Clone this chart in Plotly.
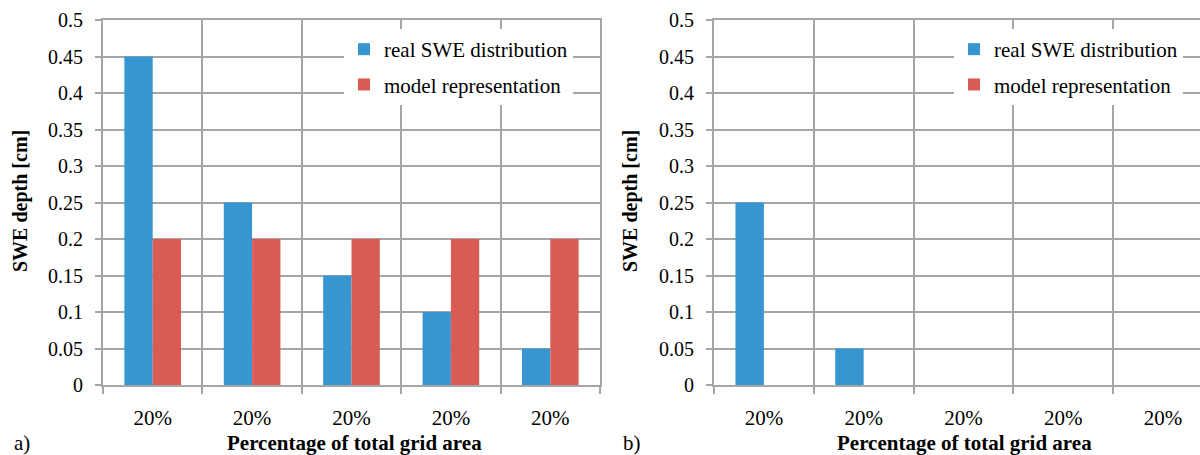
import plotly.graph_objects as go

# Data
categories = ["20%", "20%", "20%", "20%", "20%"]
real_swe_a = [0.45, 0.25, 0.15, 0.10, 0.05]
model_a = [0.20, 0.20, 0.20, 0.20, 0.20]
real_swe_b = [0.25, 0.05, 0.0, 0.0, 0.0]
model_b = [0.0, 0.0, 0.0, 0.0, 0.0]
y_ticks = [0, 0.05, 0.1, 0.15, 0.2, 0.25, 0.3, 0.35, 0.4, 0.45, 0.5]
y_ticklabels = ["0", "0.05", "0.1", "0.15", "0.2", "0.25", "0.3", "0.35", "0.4", "0.45", "0.5"]
series_names = ["real SWE distribution", "model representation"]

BLUE = "#3796CF"
RED = "#D95B56"
GRID = "#A6A6A6"
FONT = "Liberation Serif, Times New Roman, serif"

x_pos = list(range(len(categories)))
bounds = [i - 0.5 for i in range(len(categories) + 1)]

fig = go.Figure()

def add_pair(real, model, xa, ya, legend):
    fig.add_trace(go.Bar(x=x_pos, y=real, name=series_names[0], marker_color=BLUE,
                         marker_line_width=0, xaxis=xa, yaxis=ya, legend=legend,
                         legendgroup=legend + "r"))
    fig.add_trace(go.Bar(x=x_pos, y=model, name=series_names[1], marker_color=RED,
                         marker_line_width=0, xaxis=xa, yaxis=ya, legend=legend,
                         legendgroup=legend + "m"))

add_pair(real_swe_a, model_a, "x", "y", "legend")
add_pair(real_swe_b, model_b, "x2", "y2", "legend2")

def xaxis_cfg(domain, rng):
    return dict(
        domain=domain, range=rng, tickmode="array", tickvals=x_pos, ticktext=categories,
        showgrid=False, ticks="", zeroline=False, automargin=False,
        showline=True, linecolor=GRID, linewidth=2, mirror=True,
        ticklabelstandoff=13,
        tickfont=dict(family=FONT, size=21, color="black"),
        minor=dict(tickmode="array", tickvals=bounds, showgrid=True, gridcolor=GRID,
                   gridwidth=2, ticks="outside", ticklen=7, tickcolor=GRID, tickwidth=2),
    )

def yaxis_cfg(anchor, mirror):
    return dict(
        anchor=anchor, domain=[70 / 455, 435 / 455], range=[0, 0.5],
        tickmode="array", tickvals=y_ticks, ticktext=y_ticklabels,
        showgrid=True, gridcolor=GRID, gridwidth=2, zeroline=False, automargin=False,
        showline=True, linecolor=GRID, linewidth=2, mirror=mirror,
        ticks="outside", ticklen=6, tickcolor=GRID, tickwidth=2,
        ticklabelstandoff=8,
        tickfont=dict(family=FONT, size=20, color="black"),
    )

legend_common = dict(
    bgcolor="white", borderwidth=0, traceorder="grouped", tracegroupgap=5,
    font=dict(family=FONT, size=21, color="black"),
    xanchor="left", yanchor="top", itemwidth=30,
)

fig.update_layout(
    template="none",
    width=1200, height=455,
    margin=dict(l=0, r=0, t=0, b=0, autoexpand=False),
    paper_bgcolor="white", plot_bgcolor="white",
    barmode="group", bargap=0.43, bargroupgap=0,
    font=dict(family=FONT, size=20, color="black"),
    xaxis=xaxis_cfg([103 / 1200, 600 / 1200], [-0.5, 4.5]),
    xaxis2=dict(xaxis_cfg([714 / 1200, 1.0], [-0.5, 4.37]), anchor="y2"),
    yaxis=yaxis_cfg("x", True),
    yaxis2=yaxis_cfg("x2", False),
    legend=dict(legend_common, x=344 / 1200, y=1 - 29 / 455),
    legend2=dict(legend_common, x=954 / 1200, y=1 - 29 / 455),
    showlegend=True,
)

annotations = [
    dict(text="<b>SWE depth [cm]</b>", x=20 / 1200, y=1 - 201 / 455, textangle=-90, size=20),
    dict(text="<b>SWE depth [cm]</b>", x=630 / 1200, y=1 - 201 / 455, textangle=-90, size=20),
    dict(text="<b>Percentage of total grid area</b>", x=354 / 1200, y=1 - 443 / 455, size=21),
    dict(text="<b>Percentage of total grid area</b>", x=964 / 1200, y=1 - 443 / 455, size=21),
    dict(text="a)", x=22 / 1200, y=1 - 443 / 455, size=21),
    dict(text="b)", x=632 / 1200, y=1 - 443 / 455, size=21),
]
for a in annotations:
    size = a.pop("size")
    fig.add_annotation(xref="paper", yref="paper", showarrow=False,
                       font=dict(family=FONT, size=size, color="black"),
                       xanchor="center", yanchor="middle", **a)

fig.write_html("out.html")
